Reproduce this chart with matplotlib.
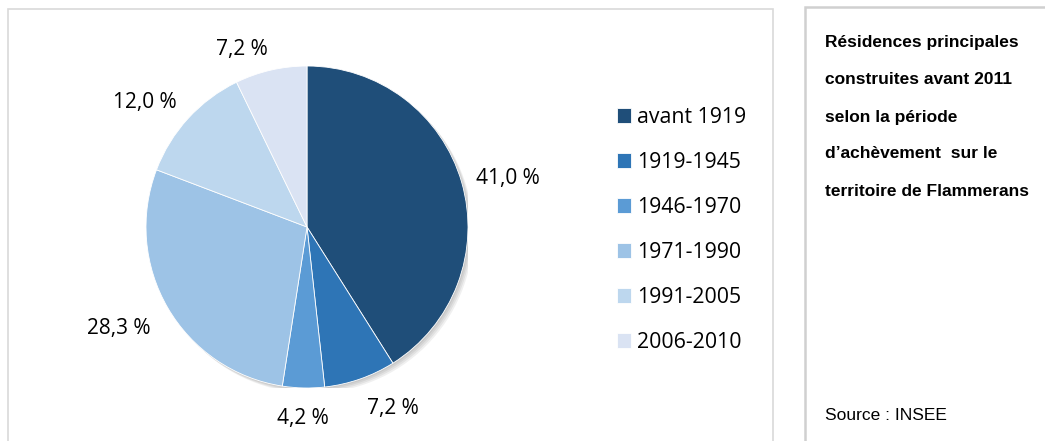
import matplotlib
matplotlib.use("Agg")
import matplotlib.pyplot as plt
from matplotlib.patches import Rectangle, Circle
import numpy as np

categories = ["avant 1919", "1919-1945", "1946-1970", "1971-1990", "1991-2005", "2006-2010"]
values = [41.0, 7.2, 4.2, 28.3, 12.0, 7.2]
colors = ["#1F4E79", "#2E75B6", "#5B9BD5", "#9DC3E6", "#BDD7EE", "#DAE3F3"]
title_lines = ["Résidences principales", "construites avant 2011", "selon la période",
               "d\u2019achèvement  sur le", "territoire de Flammerans"]
source = "Source : INSEE"

W, H = 1045, 441
fig = plt.figure(figsize=(W / 100, H / 100), dpi=100)
fig.patch.set_facecolor("white")

def fx(px):
    return px / W

def fy(py):
    return 1 - py / H

# frames
fig.add_artist(Rectangle((fx(8), fy(460)), fx(773) - fx(8), fy(9) - fy(460),
                         transform=fig.transFigure, fill=False, edgecolor="#D9D9D9", lw=1.2))
fig.add_artist(Rectangle((fx(805), fy(460)), fx(1060) - fx(805), fy(7) - fy(460),
                         transform=fig.transFigure, fill=False, edgecolor="#D0D0D0", lw=1.8))

# pie
cx, cy, r = 307, 227, 161
ax = fig.add_axes([fx(cx - r), fy(cy + r), 2 * r / W, 2 * r / H])
# soft shadow
for k in range(4):
    off = 0.008 * (k + 1)
    ax.add_patch(Circle((off, -off), 1.0, color="black", alpha=0.06, lw=0, zorder=0))
wedges, texts = ax.pie(values, colors=colors, startangle=90, counterclock=False,
                       radius=1.0, wedgeprops=dict(linewidth=0.6, edgecolor="white"),
                       labels=None)
for w in wedges:
    w.set_zorder(2)
# outside-end labels: anchored just outside the rim, aligned away from the pie
for w, v in zip(wedges, values):
    theta = np.deg2rad((w.theta1 + w.theta2) / 2)
    c, s = np.cos(theta), np.sin(theta)
    ha = "left" if c > 0.15 else ("right" if c < -0.15 else "center")
    if s > 0.4:
        va, gap = "baseline", 15.0
    elif s < -0.4:
        va, gap = "top", 20.0
    else:
        va, gap = "center", 15.0
    d = (r + gap) / r
    ax.text(d * c, d * s, f"{v:.1f} %".replace(".", ","),
            ha=ha, va=va, fontsize=15, family="Open Sans", color="#000000")
ax.set_xlim(-1, 1)
ax.set_ylim(-1, 1)
ax.set_aspect("equal")
ax.axis("off")

# legend
leg = fig.legend(wedges, categories, loc="upper left",
                 bbox_to_anchor=(fx(617), fy(107)), frameon=False,
                 prop=dict(family="Open Sans", size=15.3),
                 handlelength=0.66, handleheight=0.66, handletextpad=0.3,
                 labelspacing=1.13, borderpad=0, borderaxespad=0)

# right text
fam = ["Liberation Sans Narrow", "Liberation Sans", "DejaVu Sans"]
for i, line in enumerate(title_lines):
    fig.text(fx(825), fy(43 + i * 37), line, ha="left", va="center",
             fontsize=12.5, fontweight="bold", family=fam, color="#000000")
fig.text(fx(825), fy(415), source, ha="left", va="center", fontsize=12.5,
         family=fam, color="#000000")

fig.savefig("out.png", dpi=100, facecolor="white")
